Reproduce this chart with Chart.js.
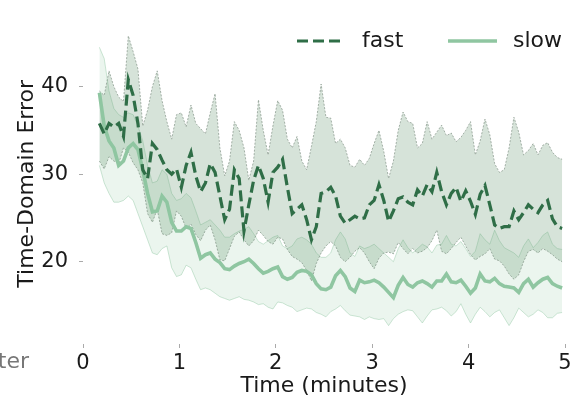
<!DOCTYPE html>
<html>
<head>
<meta charset="utf-8">
<script src="https://cdn.jsdelivr.net/npm/chart.js@4.4.1/dist/chart.umd.min.js"></script>
<style>
  html, body { margin: 0; padding: 0; background: #ffffff; }
  #wrap { width: 582px; height: 401px; }
</style>
</head>
<body>
<div id="wrap"><canvas id="errorChart" width="582" height="401"></canvas></div>
<script>
// time axis (minutes)
const time = [0.17,0.22,0.27,0.32,0.37,0.42,0.47,0.52,0.57,0.62,
  0.67,0.72,0.77,0.82,0.87,0.92,0.97,1.02,1.07,1.12,
  1.17,1.22,1.27,1.32,1.37,1.42,1.47,1.52,1.57,1.62,
  1.67,1.72,1.77,1.82,1.87,1.92,1.97,2.02,2.07,2.12,
  2.17,2.22,2.27,2.32,2.37,2.42,2.47,2.52,2.57,2.62,
  2.67,2.72,2.77,2.82,2.87,2.92,2.97,3.02,3.07,3.12,
  3.17,3.22,3.27,3.32,3.37,3.42,3.47,3.52,3.57,3.62,
  3.67,3.72,3.77,3.82,3.87,3.92,3.97,4.02,4.07,4.12,
  4.17,4.22,4.27,4.32,4.37,4.42,4.47,4.52,4.57,4.62,
  4.67,4.72,4.77,4.82,4.87,4.92,4.97];

// fast: mean and band
const fastMean = [35.8,34.6,35.8,35.4,35.8,34.3,40.8,39.0,35.8,30.5,
  29.5,33.5,32.8,31.6,30.5,30.0,30.6,28.5,31.0,32.5,
  29.8,28.0,29.0,31.2,30.2,27.5,24.8,26.0,30.5,29.5,
  23.5,26.5,29.3,31.0,29.5,26.8,30.2,30.8,31.7,28.5,
  25.5,26.0,26.5,24.8,22.5,24.0,27.8,28.0,28.5,27.5,
  25.2,24.4,24.8,25.2,24.9,25.0,26.5,27.0,28.8,27.0,
  24.6,25.8,27.2,27.4,26.8,26.5,28.2,27.5,28.8,28.0,
  30.2,28.0,26.5,27.8,28.5,26.9,28.1,26.9,25.4,27.7,
  28.7,26.5,24.2,23.8,24.0,24.0,25.8,24.8,25.6,26.5,
  26.0,25.6,26.5,27.0,24.9,24.0,23.8];
const fastUpper = [39.5,39.0,41.8,40.0,38.8,38.3,45.8,44.0,42.0,35.5,
  37.3,40.0,41.8,38.4,36.0,34.0,36.8,37.0,35.4,37.9,
  35.8,35.2,34.6,37.0,39.2,33.0,29.8,31.5,36.0,35.0,
  33.0,29.3,31.5,38.5,35.0,32.2,35.5,38.4,37.3,34.0,
  33.0,34.3,31.5,30.5,33.2,36.0,40.3,36.5,36.4,33.5,
  34.0,33.0,31.0,30.8,31.7,31.0,31.8,33.5,35.0,32.6,
  29.5,31.5,35.0,37.1,36.0,35.8,33.0,33.5,36.0,34.0,
  34.8,35.6,34.4,34.7,33.7,34.2,35.0,36.0,32.2,33.8,
  36.3,34.5,31.2,30.2,30.5,33.0,36.5,34.8,32.2,32.7,
  33.5,32.2,33.3,33.6,32.5,31.9,31.7];
const fastLower = [31.5,30.6,32.0,31.5,31.2,33.0,32.5,31.3,30.5,29.0,
  25.5,24.5,26.0,23.2,23.0,23.3,25.8,25.2,23.8,24.3,
  23.1,22.4,23.6,24.2,22.5,20.2,20.1,21.5,22.9,23.4,
  22.5,21.8,22.4,23.6,23.0,22.3,22.0,22.8,22.6,21.4,
  20.6,20.3,19.9,19.0,17.8,19.8,21.0,21.8,22.3,21.8,
  20.5,20.0,20.5,21.2,21.6,21.0,20.0,19.2,20.4,21.0,
  21.1,20.9,22.2,21.5,20.9,21.5,21.0,21.2,21.6,22.4,
  23.6,21.2,20.9,21.5,22.2,22.8,21.8,20.8,20.2,20.6,
  20.9,21.5,20.3,20.1,19.5,18.6,18.0,18.5,20.0,21.2,
  21.4,21.0,21.5,21.2,20.8,20.3,20.0];

// slow: mean and band
const slowMean = [39.3,35.5,33.8,33.0,31.0,31.5,33.0,33.5,32.8,30.5,
  27.8,25.7,25.8,27.5,26.8,24.5,23.5,23.5,24.0,23.8,
  22.2,20.4,20.8,21.0,20.3,19.9,19.2,19.1,19.5,19.8,
  20.0,20.3,19.8,19.2,18.7,18.9,19.2,19.4,18.3,18.0,
  18.2,18.8,19.0,18.9,18.5,17.5,16.9,16.8,17.1,18.4,
  19.0,18.3,17.0,16.6,17.9,17.6,17.7,17.9,17.6,17.1,
  16.5,15.9,17.3,18.2,17.4,17.1,17.6,17.8,17.5,17.1,
  17.8,17.8,18.6,17.7,17.6,17.9,17.2,16.4,17.0,18.6,
  17.8,17.7,18.1,17.5,17.2,17.1,17.0,16.5,17.5,18.0,
  17.1,17.6,18.0,18.2,17.5,17.2,17.0];
const slowUpper = [44.5,43.2,39.5,37.5,36.8,36.5,37.0,36.8,35.5,33.8,
  31.0,29.0,29.2,30.5,30.0,27.8,27.0,27.2,27.8,27.3,
  25.8,24.2,24.5,24.8,24.2,23.6,22.8,22.8,23.2,23.5,
  23.7,24.0,23.2,22.3,22.0,22.4,22.8,23.0,21.8,21.5,
  21.8,22.6,22.8,22.5,22.0,21.0,20.5,20.5,21.0,22.5,
  23.4,22.6,21.0,20.6,21.8,21.5,21.7,22.0,21.5,21.0,
  20.5,20.0,21.5,22.5,21.6,21.0,21.5,22.0,21.7,21.0,
  21.9,22.0,23.0,22.0,21.8,22.3,21.5,20.6,21.2,23.2,
  22.5,22.0,23.6,22.4,21.6,21.3,21.0,20.5,21.8,22.6,
  21.6,22.2,23.0,23.4,22.0,21.5,21.4];
const slowLower = [31.0,29.0,27.8,26.8,26.8,27.0,27.5,27.0,25.5,24.0,
  22.5,21.0,20.8,21.5,21.8,19.3,18.3,18.5,19.6,19.3,
  18.0,16.8,17.0,16.8,16.4,16.0,15.8,15.6,15.8,16.0,
  15.7,15.6,15.4,15.1,15.2,14.8,14.6,15.4,15.3,15.0,
  14.8,14.3,14.5,14.7,14.6,14.2,14.0,13.7,14.3,14.6,
  15.0,14.4,13.9,13.8,13.7,13.4,13.7,13.5,13.4,13.5,
  12.7,13.5,14.0,14.3,14.5,14.4,13.7,13.0,13.8,14.5,
  14.6,14.8,14.4,13.8,14.3,15.2,14.0,13.0,14.0,14.8,
  14.3,13.7,14.2,14.5,13.6,12.7,13.6,14.7,14.2,13.7,
  14.0,14.5,14.2,13.6,13.6,14.1,14.2];

const xTicks = [0, 1, 2, 3, 4, 5];
const yTicks = [20, 30, 40];
const seriesNames = ['fast', 'slow'];

Chart.defaults.font.family = '"DejaVu Sans", sans-serif';
Chart.defaults.font.size = 21;
Chart.defaults.color = '#1a1a1a';

function toPoints(values) {
    return time.map((t, i) => ({ x: t, y: values[i] }));
}

// legend drawn inside the plot, top right
const legendPlugin = {
    id: 'topLegend',
    afterDraw(chart) {
        const ctx = chart.ctx;
        const rows = [
            { ds: chart.data.datasets[0], x0: 297, x1: 340, tx: 362 },
            { ds: chart.data.datasets[1], x0: 448, x1: 497, tx: 513 }
        ];
        ctx.save();
        rows.forEach((row, i) => {
            ctx.strokeStyle = row.ds.borderColor;
            ctx.lineWidth = row.ds.borderWidth;
            ctx.setLineDash(row.ds.borderDash || []);
            ctx.beginPath();
            ctx.moveTo(row.x0, 41);
            ctx.lineTo(row.x1, 41);
            ctx.stroke();
            ctx.setLineDash([]);
            ctx.fillStyle = '#1a1a1a';
            ctx.font = '22px "DejaVu Sans"';
            ctx.textBaseline = 'middle';
            ctx.textAlign = 'left';
            ctx.fillText(seriesNames[i], row.tx, 41);
        });
        // cut-off label from the neighbouring panel
        ctx.fillStyle = '#777777';
        ctx.textAlign = 'right';
        ctx.fillText('ter', 29, 362);
        ctx.restore();
    }
};

const ctx = document.getElementById('errorChart').getContext('2d');

window.errorChart = new Chart(ctx, {
    type: 'line',
    data: {
        datasets: [
            {
                label: 'fast',
                data: toPoints(fastMean),
                borderColor: '#2f6e47',
                borderWidth: 3.2,
                borderDash: [11, 5],
                fill: false
            },
            {
                label: 'slow',
                data: toPoints(slowMean),
                borderColor: '#8fc6a1',
                borderWidth: 3.6,
                fill: false
            },
            {
                label: 'fast upper',
                data: toPoints(fastUpper),
                borderColor: '#8f9e93',
                borderWidth: 0.8,
                borderDash: [2, 1.5],
                backgroundColor: 'rgba(95, 145, 108, 0.26)',
                fill: { target: 3 }
            },
            {
                label: 'fast lower',
                data: toPoints(fastLower),
                borderColor: '#8f9e93',
                borderWidth: 0.8,
                borderDash: [2, 1.5],
                fill: false
            },
            {
                label: 'slow upper',
                data: toPoints(slowUpper),
                borderColor: 'rgba(143, 198, 161, 0.55)',
                borderWidth: 0.8,
                backgroundColor: 'rgba(130, 190, 150, 0.16)',
                fill: { target: 5 }
            },
            {
                label: 'slow lower',
                data: toPoints(slowLower),
                borderColor: 'rgba(143, 198, 161, 0.55)',
                borderWidth: 0.8,
                fill: false
            }
        ]
    },
    options: {
        responsive: false,
        animation: false,
        devicePixelRatio: 1,
        elements: {
            point: { radius: 0 },
            line: { tension: 0 }
        },
        layout: {
            padding: { top: 18, right: 17, left: 0, bottom: 0 }
        },
        plugins: {
            legend: { display: false },
            tooltip: { enabled: false }
        },
        scales: {
            x: {
                type: 'linear',
                min: 0,
                max: 5,
                afterBuildTicks: scale => { scale.ticks = xTicks.map(v => ({ value: v })); },
                afterFit: scale => { scale.height = 57; },
                border: { display: false },
                grid: { drawOnChartArea: false, drawTicks: true, tickLength: 4, tickColor: '#aaaaaa' },
                ticks: { padding: 3, maxRotation: 0, color: '#1a1a1a' },
                title: { display: true, text: 'Time (minutes)', color: '#1a1a1a', font: { size: 22 }, padding: { top: 0, bottom: 2 } }
            },
            y: {
                min: 10.6,
                max: 47.2,
                afterBuildTicks: scale => { scale.ticks = yTicks.map(v => ({ value: v })); },
                afterFit: scale => { scale.width = 83; },
                border: { display: false },
                grid: { drawOnChartArea: false, drawTicks: true, tickLength: 4, tickColor: '#aaaaaa' },
                ticks: { padding: 11, color: '#1a1a1a' },
                title: { display: true, text: 'Time-Domain Error', color: '#1a1a1a', font: { size: 22 }, padding: { top: 14, bottom: 0 } }
            }
        }
    },
    plugins: [legendPlugin]
});
</script>
</body>
</html>
